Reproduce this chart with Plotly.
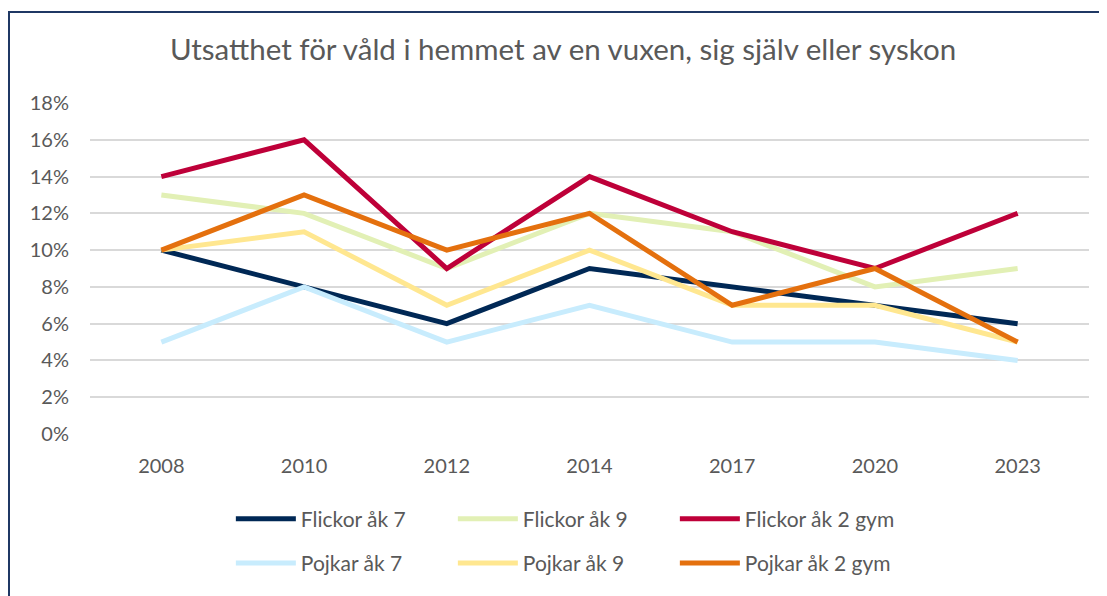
import plotly.graph_objects as go

years = ["2008", "2010", "2012", "2014", "2017", "2020", "2023"]
flickor_7 = [10, 8, 6, 9, 8, 7, 6]
flickor_9 = [13, 12, 9, 12, 11, 8, 9]
flickor_gym = [14, 16, 9, 14, 11, 9, 12]
pojkar_7 = [5, 8, 5, 7, 5, 5, 4]
pojkar_9 = [10, 11, 7, 10, 7, 7, 5]
pojkar_gym = [10, 13, 10, 12, 7, 9, 5]

series = [
    ("Flickor åk 7", flickor_7, "#002855", "legend"),
    ("Flickor åk 9", flickor_9, "#E2F0B5", "legend"),
    ("Flickor åk 2 gym", flickor_gym, "#BE0039", "legend"),
    ("Pojkar åk 7", pojkar_7, "#C8ECFD", "legend2"),
    ("Pojkar åk 9", pojkar_9, "#FFE790", "legend2"),
    ("Pojkar åk 2 gym", pojkar_gym, "#E4700E", "legend2"),
]

FONT = "Lato"
GREY = "#595959"

fig = go.Figure()
for name, vals, color, leg in series:
    fig.add_trace(go.Scatter(
        x=years, y=[v / 100 for v in vals], name=name, mode="lines",
        line=dict(color=color, width=5), legend=leg,
    ))

legend_common = dict(
    orientation="h", xanchor="left", yanchor="middle",
    font=dict(family=FONT, size=21, color=GREY),
    entrywidth=147, entrywidthmode="pixels", bgcolor="rgba(0,0,0,0)",
    itemwidth=60, tracegroupgap=0,
)

fig.update_layout(
    width=1099, height=588,
    margin=dict(l=82, r=18, t=95, b=158),
    paper_bgcolor="white", plot_bgcolor="white",
    title=dict(text="Utsatthet för våld i hemmet av en vuxen, sig själv eller syskon",
               x=(563 - 8) / 1099, xanchor="center", y=1 - 42 / 588, yanchor="middle",
               font=dict(family=FONT, size=29.5, color=GREY)),
    xaxis=dict(type="category", range=[-0.5, 6.5], showgrid=False, zeroline=False,
               showline=False, ticks="", ticklabelstandoff=18,
               tickfont=dict(family=FONT, size=20, color=GREY)),
    yaxis=dict(range=[0, 0.18], dtick=0.02, tickformat=".0%", showgrid=True,
               gridcolor="#D9D9D9", gridwidth=2, zeroline=False, showline=False,
               ticks="", ticklabelstandoff=20,
               tickfont=dict(family=FONT, size=20, color=GREY)),
    legend=dict(x=0.141, y=-0.257, **legend_common),
    legend2=dict(x=0.141, y=-0.391, **legend_common),
    showlegend=True,
)

fig.add_shape(type="rect", xref="paper", yref="paper",
              x0=(1 - 82) / 999, x1=1.2, y0=-1, y1=(430 - 3) / 335,
              line=dict(color="#1F3864", width=2), fillcolor="rgba(0,0,0,0)",
              layer="above")

fig.write_html("out.html")
